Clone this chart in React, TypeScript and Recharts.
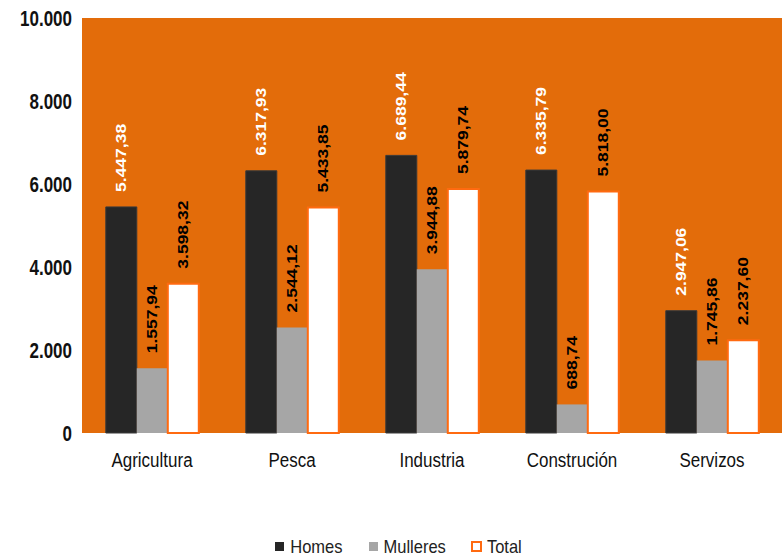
import { BarChart, Bar, XAxis, YAxis, CartesianGrid, Legend, LabelList } from "recharts"

const categories = ["Agricultura", "Pesca", "Industria", "Construción", "Servizos"]
const homes = [5447.38, 6317.93, 6689.44, 6335.79, 2947.06]
const mulleres = [1557.94, 2544.12, 3944.88, 688.74, 1745.86]
const total = [3598.32, 5433.85, 5879.74, 5818.0, 2237.6]
const yTicks = [0, 2000, 4000, 6000, 8000, 10000]

const data = categories.map((name, i) => ({
  name,
  homes: homes[i],
  mulleres: mulleres[i],
  total: total[i],
}))

const ORANGE = "#E36C0A"
const BORDER = "#FF6A10"

function thousands(n: number) {
  return String(n).replace(/\B(?=(\d{3})+(?!\d))/g, ".")
}

function formatValue(v: number) {
  const [int, dec] = v.toFixed(2).split(".")
  return `${thousands(Number(int))},${dec}`
}

function YTick(props: any) {
  const { x, y, payload } = props
  return (
    <text
      transform={`translate(${x - 2},${y}) scale(1,1.3)`}
      textAnchor="end"
      dy="0.36em"
      fontSize={17}
      fontWeight="bold"
      fill="#111"
      fontFamily="Liberation Sans, Arial, sans-serif"
    >
      {thousands(payload.value)}
    </text>
  )
}

function XTick(props: any) {
  const { x, y, payload } = props
  return (
    <text
      transform={`translate(${x},${y + 26}) scale(1,1.15)`}
      textAnchor="middle"
      fontSize={17}
      fill="#111"
      fontFamily="Liberation Sans, Arial, sans-serif"
    >
      {payload.value}
    </text>
  )
}

function makeLabel(color: string) {
  return (props: any) => {
    const { x, y, width, value } = props
    const cx = x + width / 2
    return (
      <text
        transform={`translate(${cx},${y - 15}) scale(1,1.25) rotate(-90)`}
        textAnchor="start"
        dy="0.36em"
        fontSize={14}
        fontWeight="bold"
        fill={color}
        fontFamily="Liberation Sans, Arial, sans-serif"
      >
        {formatValue(value)}
      </text>
    )
  }
}

function LegendContent() {
  const items = [
    { label: "Homes", fill: "#262626", stroke: "none" },
    { label: "Mulleres", fill: "#A6A6A6", stroke: "none" },
    { label: "Total", fill: "#fff", stroke: BORDER },
  ]
  return (
    <div
      style={{
        display: "flex",
        justifyContent: "center",
        gap: 25,
        fontFamily: "Liberation Sans Narrow, Arial Narrow, sans-serif",
        fontSize: 16.5,
        color: "#222",
        paddingLeft: 14,
      }}
    >
      {items.map((it) => (
        <span key={it.label} style={{ display: "flex", alignItems: "center", gap: 5 }}>
          <svg width={11} height={11}>
            <rect x={1} y={1} width={9} height={9} fill={it.fill} stroke={it.stroke} strokeWidth={2} />
          </svg>
          <span style={{ display: "inline-block", transform: "scaleY(1.15)" }}>{it.label}</span>
        </span>
      ))}
    </div>
  )
}

export default function App() {
  return (
    <div style={{ position: "absolute", left: 0, top: 0, background: "#fff" }}>
      <BarChart
        width={782}
        height={560}
        data={data}
        margin={{ top: 18, right: 0, left: 0, bottom: 20 }}
        barCategoryGap="17%"
        barGap={0}
      >
        <rect x={82} y={18} width={700} height={415} fill={ORANGE} />
        <CartesianGrid vertical={false} stroke="#fff" strokeWidth={1.5} />
        <XAxis
          dataKey="name"
          axisLine={false}
          tickLine={false}
          height={60}
          tick={<XTick />}
        />
        <YAxis
          width={82}
          domain={[0, 10000]}
          ticks={yTicks}
          axisLine={false}
          tickLine={false}
          tick={<YTick />}
        />
        <Legend
          verticalAlign="bottom"
          height={47}
          content={<LegendContent />}
          wrapperStyle={{ top: 537, bottom: "auto", left: 0, width: 782 }}
        />
        <Bar dataKey="homes" name="Homes" fill="#262626" stroke="#3a3a3a" strokeWidth={1} isAnimationActive={false}>
          <LabelList dataKey="homes" content={makeLabel("#fff")} />
        </Bar>
        <Bar dataKey="mulleres" name="Mulleres" fill="#A6A6A6" isAnimationActive={false}>
          <LabelList dataKey="mulleres" content={makeLabel("#000")} />
        </Bar>
        <Bar dataKey="total" name="Total" fill="#fff" stroke={BORDER} strokeWidth={2} isAnimationActive={false}>
          <LabelList dataKey="total" content={makeLabel("#000")} />
        </Bar>
      </BarChart>
    </div>
  )
}
